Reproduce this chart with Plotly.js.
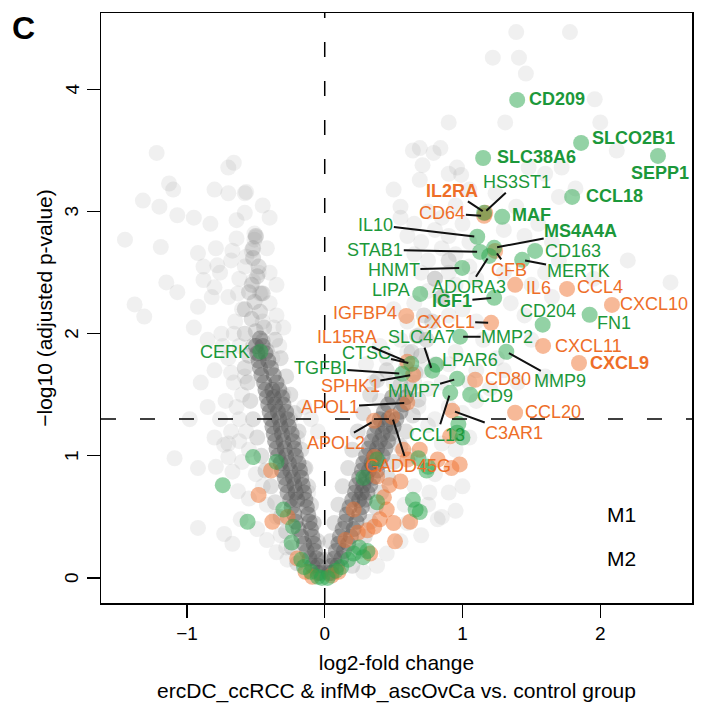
<!DOCTYPE html>
<html>
<head>
<meta charset="utf-8">
<script src="https://cdn.plot.ly/plotly-3.0.1.min.js"></script>
<style>html,body{margin:0;padding:0;background:#fff;}#chart{width:707px;height:707px;}</style>
</head>
<body>
<div id="chart"></div>
<script>
// ---------------- DATA ----------------
// labelled M1 genes (green)
const greenGenes = ['CD209','SLCO2B1','SLC38A6','SEPP1','CCL18','MAF','MS4A4A','IGF1','HS3ST1','IL10','STAB1','HNMT','ADORA3','CD163','MERTK','LIPA','CD204','FN1','MMP2','SLC4A7','CTSC','TGFBI','LPAR6','MMP7','CD9','CCL13','MMP9','CERK'];
const greenGeneX = [1.397,1.861,1.150,2.419,1.796,1.288,1.230,1.230,1.157,1.107,1.128,0.998,1.194,1.527,1.433,0.693,1.582,1.923,0.983,0.780,0.628,0.563,0.809,0.961,1.056,0.911,1.318,-0.467];
const greenGeneY = [3.914,3.562,3.439,3.456,3.120,2.957,2.703,2.294,2.990,2.794,2.670,2.539,2.637,2.678,2.605,2.326,2.074,2.155,1.976,1.697,1.754,1.672,1.746,1.631,1.500,1.516,1.852,1.853];
const greenBold = ['CD209','SLCO2B1','SLC38A6','SEPP1','CCL18','MAF','MS4A4A','IGF1'];

// labelled M2 genes (orange)
const orangeGenes = ['IL2RA','CD64','CFB','IL6','CCL4','CXCL10','IGFBP4','CXCL1','CXCL11','CXCL9','IL15RA','SPHK1','CD80','APOL1','APOL2','GADD45G','C3AR1','CCL20'];
const orangeGeneX = [1.165,1.157,1.237,1.382,1.759,2.085,0.592,1.208,1.585,1.846,0.599,0.642,1.092,0.599,0.359,0.489,0.925,1.382];
const orangeGeneY = [2.990,2.965,2.678,2.400,2.367,2.236,2.146,2.089,1.900,1.760,1.770,1.664,1.623,1.435,1.287,1.320,1.370,1.353];
const orangeBold = ['IL2RA','CXCL9'];

// unlabelled M1 / M2 genes
const greenOther = [[-0.52,0.99],[-0.74,0.76],[-0.56,0.46],[-0.35,0.95],[-0.30,0.56],[-0.23,0.42],[-0.24,0.29],[-0.17,0.15],[-0.15,0.09],[-0.10,0.05],[-0.05,0.01],[-0.02,0.00],[0.02,0.00],[0.08,0.06],[0.12,0.09],[0.17,0.15],[0.21,0.20],[0.25,0.25],[0.28,0.17],[0.31,0.22],[0.28,0.82],[0.38,0.97],[0.38,0.62],[0.64,0.64],[0.66,0.56],[0.68,0.98],[0.75,0.91],[0.97,1.26],[1.00,1.15],[0.74,0.88],[0.69,0.54],[0.96,1.19]];
const orangeOther = [[-0.39,0.88],[-0.48,0.68],[-0.38,0.46],[-0.27,0.50],[-0.20,0.16],[-0.14,0.05],[-0.09,0.01],[0.05,0.02],[0.10,0.05],[0.21,0.56],[0.15,0.31],[0.24,0.37],[0.31,0.39],[0.36,0.42],[0.40,0.48],[0.45,0.56],[0.50,0.45],[0.51,0.30],[0.33,0.20],[0.38,0.83],[0.47,0.76],[0.55,0.79],[0.62,0.46],[0.43,0.66],[0.36,0.99],[0.57,1.05],[0.69,1.05],[0.82,0.97],[0.91,1.16],[0.98,0.93],[0.92,0.90],[0.60,0.97]];

// all other genes (grey): dense V core, halo, sparse outliers
const grayCore = [
  [-0.03,0.04],[-0.05,0.04],[-0.05,0.10],[-0.09,0.10],[-0.06,0.16],[-0.11,0.16],[-0.07,0.22],[-0.13,0.22],[-0.08,0.28],[-0.15,0.28],
  [-0.09,0.34],[-0.17,0.34],[-0.10,0.40],[-0.19,0.40],[-0.11,0.46],[-0.21,0.46],[-0.12,0.52],[-0.22,0.52],[-0.13,0.58],[-0.24,0.58],
  [-0.14,0.64],[-0.20,0.64],[-0.25,0.64],[-0.15,0.70],[-0.21,0.70],[-0.27,0.70],[-0.16,0.76],[-0.22,0.76],[-0.28,0.76],
  [-0.17,0.82],[-0.23,0.82],[-0.29,0.82],[-0.18,0.88],[-0.25,0.88],[-0.31,0.88],[-0.19,0.94],[-0.26,0.94],[-0.32,0.94],
  [-0.21,1.00],[-0.28,1.00],[-0.34,1.00],[-0.22,1.06],[-0.29,1.06],[-0.35,1.06],[-0.23,1.12],[-0.30,1.12],[-0.36,1.12],
  [-0.24,1.18],[-0.31,1.18],[-0.37,1.18],[-0.26,1.24],[-0.32,1.24],[-0.38,1.24],[-0.27,1.30],[-0.33,1.30],[-0.39,1.30],
  [-0.28,1.36],[-0.34,1.36],[-0.40,1.36],[-0.30,1.42],[-0.36,1.42],[-0.41,1.42],[-0.31,1.48],[-0.37,1.48],[-0.42,1.48],
  [-0.33,1.54],[-0.38,1.54],[-0.43,1.54],[-0.35,1.60],[-0.44,1.60],[-0.37,1.66],[-0.46,1.66],[-0.39,1.72],[-0.47,1.72],[-0.41,1.78],[-0.48,1.78],
  [-0.43,1.84],[-0.49,1.84],[-0.45,1.90],[-0.50,1.90],[-0.47,1.96],
  [0.03,0.04],[0.05,0.04],[0.05,0.10],[0.09,0.10],[0.07,0.16],[0.12,0.16],[0.08,0.22],[0.14,0.22],[0.10,0.28],[0.17,0.28],
  [0.11,0.34],[0.19,0.34],[0.13,0.40],[0.21,0.40],[0.15,0.46],[0.23,0.46],[0.16,0.52],[0.25,0.52],[0.18,0.58],[0.27,0.58],
  [0.20,0.64],[0.25,0.64],[0.29,0.64],[0.22,0.70],[0.27,0.70],[0.31,0.70],[0.23,0.76],[0.28,0.76],[0.33,0.76],
  [0.25,0.82],[0.30,0.82],[0.35,0.82],[0.27,0.88],[0.32,0.88],[0.38,0.88],[0.28,0.94],[0.34,0.94],[0.40,0.94],
  [0.30,1.00],[0.36,1.00],[0.42,1.00],[0.32,1.06],[0.38,1.06],[0.44,1.06],[0.34,1.12],[0.40,1.12],[0.46,1.12],
  [0.36,1.18],[0.42,1.18],[0.48,1.18],[0.38,1.24],[0.44,1.24],[0.50,1.24],[0.40,1.30],[0.46,1.30],[0.52,1.30],
  [0.43,1.36],[0.55,1.36],[0.46,1.42],[0.57,1.42],[0.49,1.48],[0.59,1.48]];
const grayMid = [[-0.48,1.84],[-0.42,1.86],[-0.52,1.90],[-0.45,1.94],[-0.50,2.02],[-0.44,2.05],[-0.53,2.12],[-0.47,2.18],[-0.51,2.26],[-0.45,2.33],[-0.53,2.40],[-0.49,2.47],[-0.48,2.55],[-0.52,2.62],[-0.52,2.70],[-0.50,2.80],[-0.55,2.34],[-0.58,2.20],[-0.58,2.00],[-0.55,1.82],
  [-0.20,0.12],[-0.24,0.25],[-0.28,0.38],[-0.32,0.50],[-0.36,0.62],[-0.39,0.75],[-0.43,0.88],[-0.46,1.00],[-0.49,1.15],[-0.52,1.30],[-0.54,1.45],[-0.56,1.60],[-0.58,1.72],
  [-0.02,0.15],[-0.05,0.30],[-0.08,0.45],[-0.10,0.60],[-0.12,0.75],[-0.14,0.90],[-0.17,1.05],[-0.19,1.20],[-0.22,1.35],[-0.25,1.50],[-0.28,1.65],[-0.32,1.80],[-0.36,1.95],
  [0.62,1.56],[0.55,1.58],[0.66,1.68],[0.59,1.72],[0.70,1.82],[0.63,1.85],[0.74,1.95],[0.67,1.98],[0.78,2.10],[0.72,2.15],[0.85,2.30],[0.80,2.45],[0.90,2.60],
  [0.20,0.10],[0.25,0.22],[0.29,0.34],[0.33,0.46],[0.37,0.58],[0.41,0.70],[0.46,0.82],[0.50,0.95],[0.55,1.08],[0.59,1.20],[0.64,1.33],[0.68,1.46],
  [0.01,0.15],[0.04,0.30],[0.07,0.45],[0.10,0.60],[0.13,0.75],[0.17,0.90],[0.20,1.05],[0.24,1.20],[0.28,1.35],[0.33,1.50],[0.38,1.62],[0.45,1.70]];
const grayLight = [[-1.22,3.48],[-1.13,3.23],[-1.10,3.18],[-1.32,3.09],[-1.20,3.04],[-1.07,2.97],[-0.95,2.95],[-0.83,2.90],[-1.45,2.77],[-1.19,2.71],[-1.15,2.42],[-1.07,2.34],[-1.38,2.24],[-1.31,2.14],[-0.70,3.36],[-0.66,3.40],[-0.80,3.18],[-0.70,3.15],[-0.58,3.15],[-0.58,2.99],[-0.64,2.93],[-0.51,2.82],[-0.51,2.77],[-0.64,2.78],[-0.79,2.70],[-0.92,2.66],[-0.67,2.68],[-0.88,2.55],[-0.78,2.56],[-0.76,2.50],[-0.88,2.44],[-0.80,2.38],[-0.82,2.30],[-0.92,2.22],[-0.63,2.33],[-0.47,2.33],[-0.35,2.15],[-0.57,3.16],[-0.50,2.79],[-0.53,2.68],[-0.57,2.63],[-0.48,2.50],[-0.52,2.43],[-0.46,2.33],
  [-1.09,0.98],[-0.92,0.90],[-0.79,0.91],[-0.67,0.87],[-0.73,1.09],[-0.70,0.99],[-0.92,0.41],[-0.73,0.36],[-0.67,0.28],[-0.63,0.71],[-0.61,0.48],[-0.49,0.40],[-0.42,0.31],[-0.35,0.21],[-0.27,0.15],
  [-0.95,2.05],[-0.85,1.95],[-0.75,2.00],[-0.65,2.10],[-0.62,1.90],[-0.70,1.80],[-0.80,1.70],[-0.90,1.60],[-0.66,1.60],[-0.60,1.50],[-0.72,1.45],[-0.85,1.40],[-0.98,1.30],[-0.62,1.30],[-0.57,1.20],[-0.68,1.20],[-0.80,1.15],[-0.55,1.05],[-0.60,0.95],[-0.50,0.85],[-0.45,0.75],[-0.55,0.65],[-0.42,0.60],[-0.35,0.50],[-0.32,0.35],[-0.28,0.25],[-0.30,1.50],[-0.25,1.30],[-0.20,1.15],[-0.15,0.90],[-0.12,0.70],[-0.08,0.45],[-0.38,1.80],[-0.33,1.90],[-0.30,2.05],[-0.45,2.10],[-0.60,2.20],[-0.70,2.30],[-0.40,2.50],[-0.35,2.40],[-0.10,1.30],[-0.15,1.40],[-0.05,1.20],[-0.42,2.70],[-0.40,2.95],[-0.45,3.05],
  [-0.68,1.68],[-0.74,1.90],[-0.66,2.00],[-0.58,1.65],[-0.64,1.40],[-0.76,1.30],[-0.70,1.10],[-0.62,1.12],[-0.40,2.25],[-0.37,2.05],[-0.62,2.45],[-0.58,2.55],[-0.68,2.60],
  [1.39,4.47],[1.78,4.47],[1.22,4.26],[1.41,4.26],[1.46,4.13],[1.96,3.92],[0.90,3.73],[1.31,3.73],[2.00,3.73],[0.64,3.50],[0.69,3.52],[0.84,3.52],[0.79,3.48],[0.71,3.38],[0.96,3.36],[0.90,3.31],[0.99,3.30],[0.69,3.26],[0.50,3.18],[0.55,3.04],[1.72,3.36],[2.12,3.50],[1.60,3.31],[1.82,3.19],[1.70,3.12],[1.48,3.36],[1.39,3.04],[1.05,3.18],[1.24,3.15],
  [0.55,2.95],[0.65,2.90],[0.75,3.00],[0.85,2.95],[0.95,3.05],[0.60,2.80],[0.70,2.75],[0.80,2.85],[0.90,2.80],[1.00,2.90],[0.65,2.65],[0.75,2.60],[0.85,2.70],[0.95,2.65],[1.05,2.75],[0.70,2.50],[0.80,2.45],[0.90,2.50],[1.05,2.55],[0.75,2.35],[0.85,2.30],[0.95,2.40],[1.10,2.45],[1.00,2.20],[0.90,2.15],[1.10,2.10],[1.30,2.50],[1.35,2.25],[1.30,2.85],[1.45,2.80],[1.55,2.90],[1.65,2.75],[1.60,2.50],[1.70,2.60],[1.50,2.40],[1.65,2.30],[1.45,2.15],[1.50,1.95],[1.30,1.70],[1.40,1.60],[1.60,1.65],[1.20,1.55],[1.25,1.80],[1.15,1.95],[1.10,1.70],[2.51,2.42],[2.20,2.60],[1.95,2.45],
  [0.50,1.60],[0.45,1.80],[0.55,1.95],[0.60,2.10],[0.65,2.25],[0.70,2.00],[0.80,1.75],[0.85,1.60],[0.90,1.75],[0.95,1.85],[0.75,1.55],[0.80,1.30],[0.90,1.40],[1.00,1.35],[1.05,1.60],[1.10,1.45],[0.85,1.10],[0.95,1.05],[1.05,1.15],[0.70,0.95],[0.80,0.85],[0.90,0.70],[0.65,0.75],[0.75,0.60],[0.85,0.50],[0.60,0.45],[0.70,0.35],[0.55,0.30],[0.45,0.20],[0.38,0.10],[0.28,0.05],[0.82,0.48],[0.76,0.70],[1.00,0.75],[0.95,0.55],[0.40,1.45],[0.35,1.60],[0.30,1.75],[0.40,1.90],[0.50,2.20],
  [0.65,1.60],[0.72,1.70],[0.60,1.85],[0.68,1.40],[0.75,1.25],[0.62,1.00],[0.58,0.60]];

// thresholds, ticks, legend
const fcThreshold = 0;
const pThresholdLog = 1.301;
const xTicks = [-1, 0, 1, 2];
const yTicks = [0, 1, 2, 3, 4];
const legendItems = ['M1', 'M2'];

// ---------------- LABEL PLACEMENT (layout, not data) ----------------
// gene: [textX, textY, xanchor, leaderLine]
const place = {
  CD209:[1.467,3.92,'left',0], SLCO2B1:[1.926,3.606,'left',0], SLC38A6:[1.237,3.445,'left',0],
  SEPP1:[2.433,3.317,'center',0], CCL18:[1.883,3.128,'left',0], MAF:[1.346,2.975,'left',0],
  MS4A4A:[1.858,2.837,'center',1], IGF1:[0.923,2.264,'center',1], HS3ST1:[1.397,3.24,'center',1],
  IL10:[0.371,2.891,'center',1], STAB1:[0.367,2.687,'center',1], HNMT:[0.502,2.523,'center',1],
  ADORA3:[1.049,2.381,'center',1], CD163:[1.587,2.678,'left',0], MERTK:[1.839,2.515,'center',1],
  LIPA:[0.633,2.354,'right',0], CD204:[1.624,2.182,'center',0], FN1:[2.10,2.087,'center',0],
  MMP2:[1.324,1.972,'center',1], SLC4A7:[0.699,1.972,'center',1], CTSC:[0.300,1.841,'center',1],
  TGFBI:[-0.032,1.718,'center',1], LPAR6:[1.056,1.781,'center',0], MMP7:[0.645,1.527,'center',1],
  CD9:[1.237,1.486,'center',0], CCL13:[0.814,1.173,'center',1], MMP9:[1.706,1.609,'center',1],
  CERK:[-0.527,1.854,'right',0],
  IL2RA:[0.923,3.169,'center',1], CD64:[0.854,2.987,'center',1], CFB:[1.336,2.523,'center',1],
  IL6:[1.447,2.373,'left',0], CCL4:[1.817,2.381,'left',0], CXCL10:[2.131,2.245,'left',0],
  IGFBP4:[0.536,2.168,'right',0], CXCL1:[0.878,2.10,'center',1], CXCL11:[1.66,1.903,'left',0],
  CXCL9:[1.914,1.757,'left',0], IL15RA:[0.161,1.977,'center',1], SPHK1:[0.186,1.574,'center',1],
  CD80:[1.152,1.628,'left',0], APOL1:[0.035,1.399,'center',1], APOL2:[0.08,1.105,'center',1],
  GADD45G:[0.603,0.913,'center',1], C3AR1:[1.371,1.187,'center',1], CCL20:[1.442,1.358,'left',0]
};

// ---------------- STYLE ----------------
const FONT = 'Liberation Sans, Arial, Helvetica, sans-serif';
const GREEN_MK = 'rgba(40,165,75,0.5)';
const ORANGE_MK = 'rgba(240,115,50,0.5)';
const GREEN_TX = 'rgb(28,152,58)';
const ORANGE_TX = 'rgb(238,110,40)';
const MS = 16;

function xs(a){return a.map(p=>p[0]);}
function ys(a){return a.map(p=>p[1]);}

const traces = [
  {type:'scatter',mode:'markers',x:xs(grayLight),y:ys(grayLight),marker:{size:MS,color:'rgba(128,128,128,0.12)',line:{width:0}},hoverinfo:'skip'},
  {type:'scatter',mode:'markers',x:xs(grayMid),y:ys(grayMid),marker:{size:MS,color:'rgba(115,115,115,0.22)',line:{width:0}},hoverinfo:'skip'},
  {type:'scatter',mode:'markers',x:xs(grayCore),y:ys(grayCore),marker:{size:MS,color:'rgba(85,85,85,0.42)',line:{width:0}},hoverinfo:'skip'},
  {type:'scatter',mode:'markers',name:'M2',x:xs(orangeOther).concat(orangeGeneX),y:ys(orangeOther).concat(orangeGeneY),marker:{size:MS,color:ORANGE_MK,line:{width:0}}},
  {type:'scatter',mode:'markers',name:'M1',x:xs(greenOther).concat(greenGeneX),y:ys(greenOther).concat(greenGeneY),marker:{size:MS,color:GREEN_MK,line:{width:0}}}
];

const annotations = [];
function addLabels(names, gx, gy, bold, color){
  names.forEach((g,i)=>{
    const p = place[g];
    const txt = bold.includes(g) ? '<b>'+g+'</b>' : g;
    const a = {text:txt, font:{family:FONT,size:18,color:color}, showarrow:false};
    if (p[3]) {
      Object.assign(a,{x:gx[i],y:gy[i],xref:'x',yref:'y',ax:p[0],ay:p[1],axref:'x',ayref:'y',
        showarrow:true,arrowhead:0,arrowwidth:2,arrowcolor:'#111',standoff:3,borderpad:0});
    } else {
      Object.assign(a,{x:p[0],y:p[1],xref:'x',yref:'y',xanchor:p[2],yanchor:'middle'});
    }
    annotations.push(a);
  });
}
addLabels(greenGenes, greenGeneX, greenGeneY, greenBold, GREEN_TX);
addLabels(orangeGenes, orangeGeneX, orangeGeneY, orangeBold, ORANGE_TX);

// rotated y tick labels (R style)
yTicks.forEach(v=>annotations.push({text:String(v),x:-0.049,y:v,xref:'paper',yref:'y',xanchor:'center',yanchor:'middle',
  textangle:-90,showarrow:false,font:{family:FONT,size:19,color:'#000'}}));

annotations.push({text:legendItems[0],x:2.151,y:0.518,xref:'x',yref:'y',xanchor:'center',yanchor:'middle',showarrow:false,font:{family:FONT,size:21,color:'#000'}});
annotations.push({text:legendItems[1],x:2.151,y:0.158,xref:'x',yref:'y',xanchor:'center',yanchor:'middle',showarrow:false,font:{family:FONT,size:21,color:'#000'}});
annotations.push({text:'<b>C</b>',x:-0.131,y:0.974,xref:'paper',yref:'paper',xanchor:'center',yanchor:'middle',showarrow:false,font:{family:FONT,size:32,color:'#000'}});

const layout = {
  width:707,height:707,
  margin:{l:101,r:15,t:13,b:104},
  paper_bgcolor:'#fff',plot_bgcolor:'#fff',
  showlegend:false,
  font:{family:FONT,color:'#000'},
  xaxis:{range:[-1.624,2.666],tickvals:xTicks,ticks:'outside',ticklen:13,tickwidth:1.3,tickcolor:'#000',
    showline:true,linecolor:'#000',linewidth:1.5,mirror:true,showgrid:false,zeroline:false,
    tickfont:{family:FONT,size:19,color:'#000'},
    title:{text:'log2-fold change<br>ercDC_ccRCC & infMΦ_ascOvCa vs. control group',font:{family:FONT,size:21,color:'#000'},standoff:12}},
  yaxis:{range:[-0.205,4.626],tickvals:yTicks,ticks:'outside',ticklen:13,tickwidth:1.3,tickcolor:'#000',
    showline:true,linecolor:'#000',linewidth:1.5,mirror:true,showgrid:false,zeroline:false,
    tickfont:{family:FONT,size:19,color:'rgba(0,0,0,0)'},
    title:{text:'−log10 (adjusted p-value)',font:{family:FONT,size:21,color:'#000'},standoff:14}},
  shapes:[
    {type:'line',xref:'x',yref:'paper',x0:fcThreshold,x1:fcThreshold,y0:0,y1:1,line:{color:'#000',width:1.5,dash:'15px,24px'}},
    {type:'line',xref:'paper',yref:'y',x0:0,x1:1,y0:pThresholdLog,y1:pThresholdLog,line:{color:'#000',width:1.5,dash:'15px,24px'}}
  ],
  annotations:annotations
};

Plotly.newPlot('chart',traces,layout,{displayModeBar:false,staticPlot:true});
</script>
</body>
</html>
